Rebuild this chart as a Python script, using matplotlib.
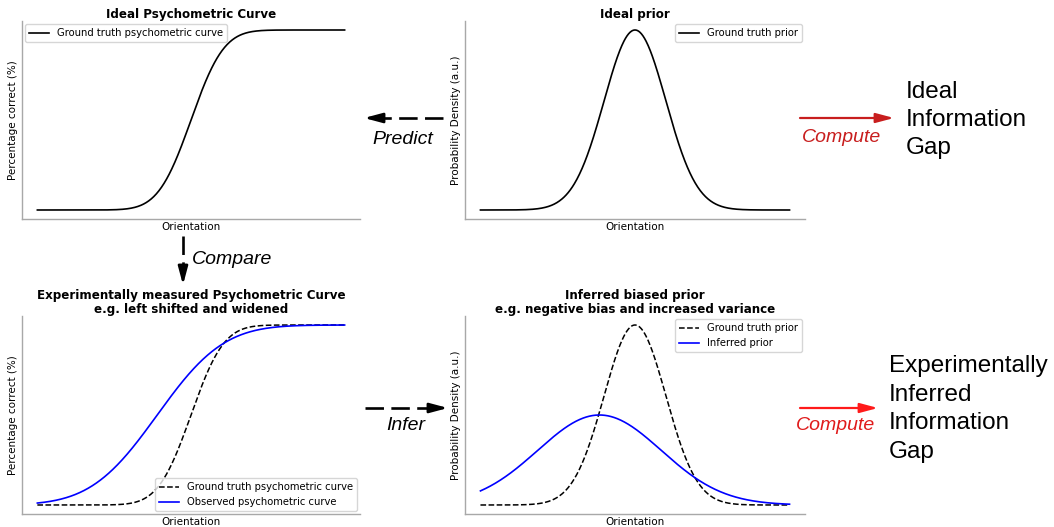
import math

import matplotlib.pyplot as plt
import numpy as np
from matplotlib.lines import Line2D

# orientation axis (arbitrary units) and curve parameters
orientation = np.linspace(-5, 5, 600)
truth_psy_mu, truth_psy_sigma = 0.0, 0.84
observed_psy_mu, observed_psy_sigma = -1.1, 1.7
truth_prior_mu, truth_prior_sigma = 0.0, 1.0
inferred_prior_mu, inferred_prior_sigma = -1.15, 2.0

SPINE = "#a8a8a8"
ARROW_FONT = "Liberation Sans"


def norm_cdf(x, mu, sigma):
    erf = np.vectorize(math.erf)
    return 0.5 * (1 + erf((x - mu) / (sigma * math.sqrt(2))))


def norm_pdf(x, mu, sigma):
    return np.exp(-0.5 * ((x - mu) / sigma) ** 2) / (sigma * math.sqrt(2 * math.pi))


def style_axis(ax, title, ylabel):
    ax.set_title(title, fontsize=8.6, fontweight="bold", pad=1.5, linespacing=1.15)
    ax.set_xlabel("Orientation", fontsize=7.5, labelpad=2)
    ax.set_ylabel(ylabel, fontsize=7.5, labelpad=3)
    ax.set_xticks([])
    ax.set_yticks([])
    for side in ["top", "right"]:
        ax.spines[side].set_visible(False)
    for side in ["left", "bottom"]:
        ax.spines[side].set_color(SPINE)
        ax.spines[side].set_linewidth(1.0)


fig = plt.figure(figsize=(10.54, 5.27), dpi=100)
W, H = 1054, 527


def px_axes(left, top, right, bottom):
    return fig.add_axes([left / W, 1 - bottom / H, (right - left) / W, (bottom - top) / H])


ax_psy = px_axes(22, 21, 360, 219)
ax_prior = px_axes(465, 21, 805, 219)
ax_psy_obs = px_axes(22, 316, 360, 514)
ax_prior_inf = px_axes(465, 316, 805, 514)

ax_psy.plot(orientation, norm_cdf(orientation, truth_psy_mu, truth_psy_sigma),
            color="black", lw=1.2, label="Ground truth psychometric curve")
style_axis(ax_psy, "Ideal Psychometric Curve", "Percentage correct (%)")
ax_psy.legend(loc="upper left", fontsize=7.2, borderaxespad=0.3)

ax_prior.plot(orientation, norm_pdf(orientation, truth_prior_mu, truth_prior_sigma),
              color="black", lw=1.2, label="Ground truth prior")
style_axis(ax_prior, "Ideal prior", "Probability Density (a.u.)")
ax_prior.legend(loc="upper right", fontsize=7.2, borderaxespad=0.3)

ax_psy_obs.plot(orientation, norm_cdf(orientation, truth_psy_mu, truth_psy_sigma),
                color="black", ls="--", lw=1.1, label="Ground truth psychometric curve")
ax_psy_obs.plot(orientation, norm_cdf(orientation, observed_psy_mu, observed_psy_sigma),
                color="blue", lw=1.2, label="Observed psychometric curve")
style_axis(ax_psy_obs, "Experimentally measured Psychometric Curve\ne.g. left shifted and widened",
           "Percentage correct (%)")
ax_psy_obs.legend(loc="lower right", fontsize=7.2, borderaxespad=0.3)

ax_prior_inf.plot(orientation, norm_pdf(orientation, truth_prior_mu, truth_prior_sigma),
                  color="black", ls="--", lw=1.1, label="Ground truth prior")
ax_prior_inf.plot(orientation, norm_pdf(orientation, inferred_prior_mu, inferred_prior_sigma),
                  color="blue", lw=1.2, label="Inferred prior")
style_axis(ax_prior_inf, "Inferred biased prior\ne.g. negative bias and increased variance",
           "Probability Density (a.u.)")
ax_prior_inf.legend(loc="upper right", fontsize=7.2, borderaxespad=0.3)

# overlay in pixel coordinates for the flow arrows and labels
ov = fig.add_axes([0, 0, 1, 1], zorder=10)
ov.set_xlim(0, W)
ov.set_ylim(H, 0)
ov.axis("off")
ov.patch.set_alpha(0)

HEAD = "-|>,head_length=0.6,head_width=0.16"


def dashed_arrow(x0, y0, x1, y1, hx, hy):
    ov.add_line(Line2D([x0, x1], [y0, y1], color="black", lw=1.9,
                       linestyle=(0, (7.0, 2.8)), solid_capstyle="butt"))
    ov.annotate("", xy=(hx, hy), xytext=(x1, y1),
                arrowprops=dict(arrowstyle=HEAD, color="black", lw=1.9,
                                mutation_scale=18, shrinkA=0, shrinkB=0))


def solid_arrow(x0, x1, y, color):
    ov.annotate("", xy=(x1, y), xytext=(x0, y),
                arrowprops=dict(arrowstyle=HEAD, color=color, lw=1.6,
                                mutation_scale=18, shrinkA=0, shrinkB=0))


arrow_text = dict(fontsize=14, style="italic", family=ARROW_FONT)
gap_text = dict(fontsize=17.5, family=ARROW_FONT, linespacing=1.38)

dashed_arrow(443, 118, 378, 118, 364, 118)
ov.text(403, 139, "Predict", ha="center", va="center", **arrow_text)

dashed_arrow(183, 236, 183, 271, 183, 285)
ov.text(192, 260, "Compare", ha="left", va="center", **arrow_text)

dashed_arrow(365, 408, 434, 408, 448, 408)
ov.text(406, 426, "Infer", ha="center", va="center", **arrow_text)

solid_arrow(800, 894, 118, "#c81e1e")
ov.text(842, 137, "Compute", ha="center", va="center", color="#c81e1e", **arrow_text)
ov.text(906, 120, "Ideal\nInformation\nGap", ha="left", va="center", **gap_text)

solid_arrow(800, 878, 408, "#ff1a1a")
ov.text(836, 426, "Compute", ha="center", va="center", color="#e01b1b", **arrow_text)
ov.text(889, 409, "Experimentally\nInferred\nInformation\nGap", ha="left", va="center",
        **gap_text)

fig.savefig("out.png", dpi=100)
